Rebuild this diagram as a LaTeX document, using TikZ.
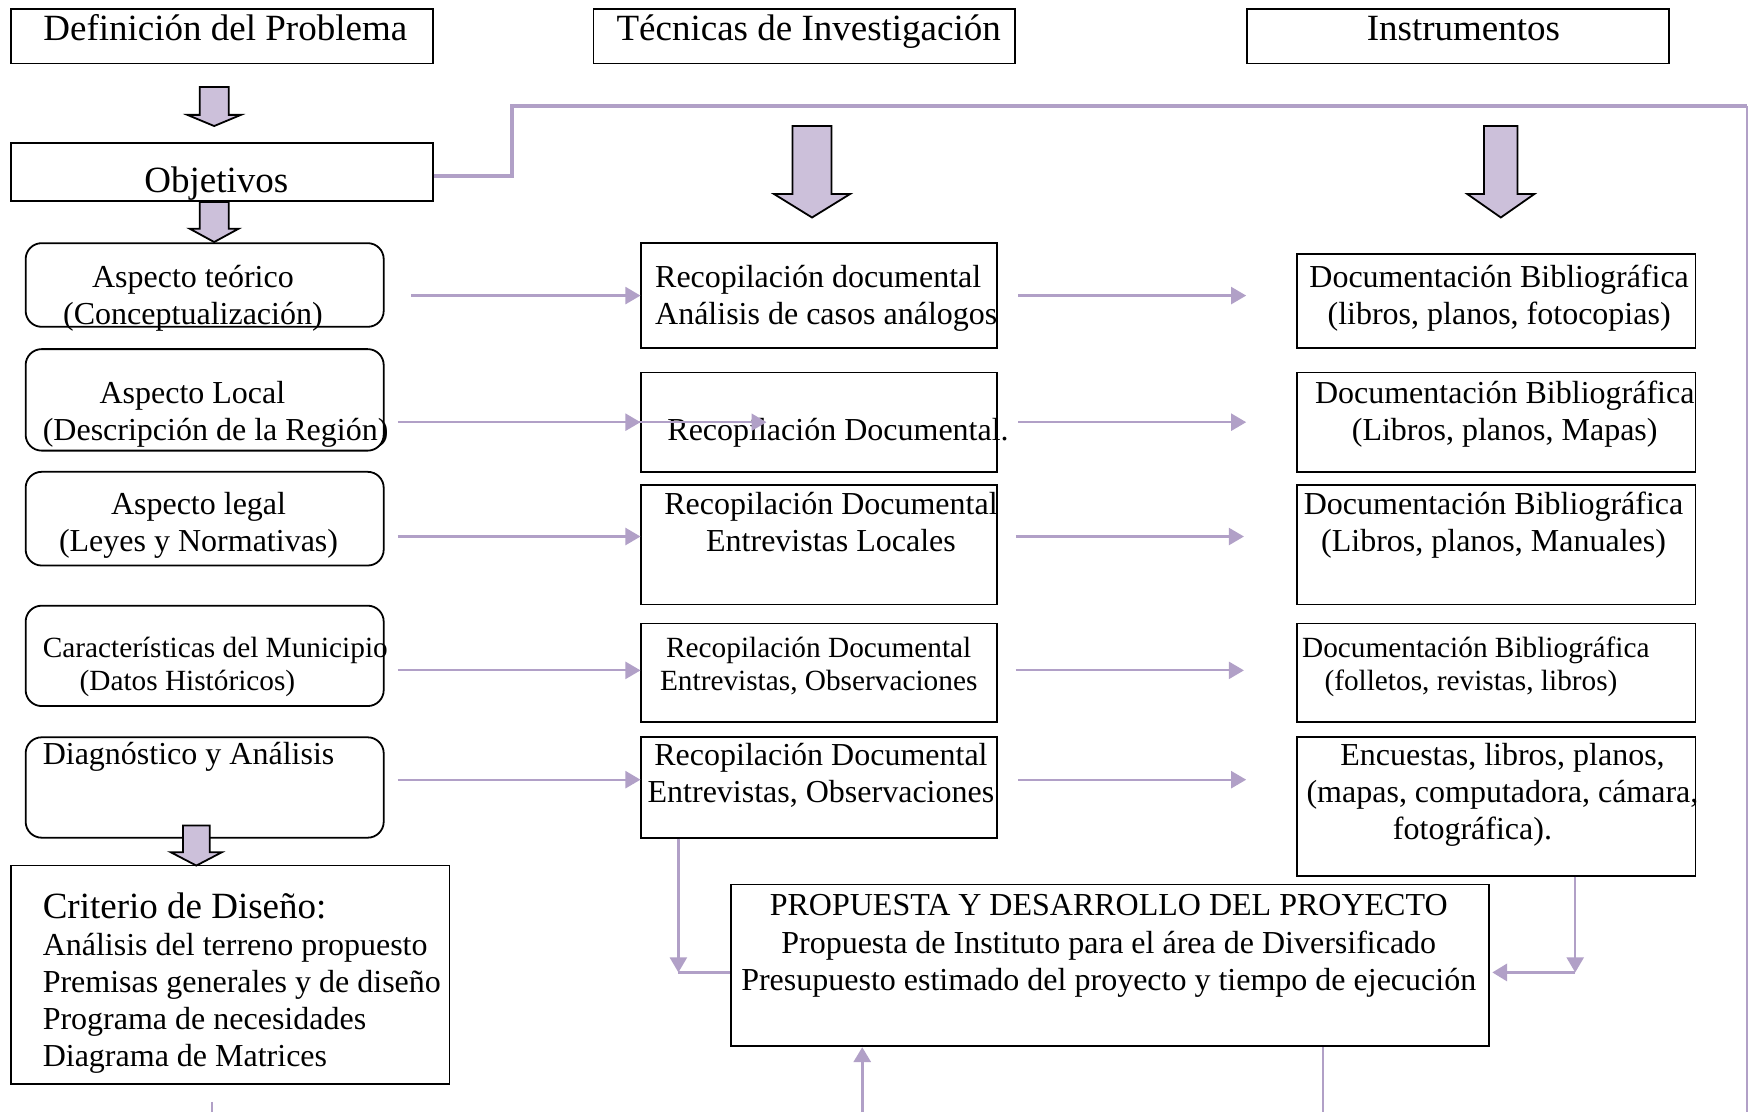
\documentclass[tikz,border=0pt]{standalone}
\usepackage{fontspec}
\setmainfont{Liberation Serif}
\usetikzlibrary{arrows.meta,calc,fit}
\definecolor{lpurple}{RGB}{177,160,199}
\definecolor{lfill}{RGB}{204,192,218}
\newcommand\fnorm{\fontsize{16}{18.5}\selectfont}
\newcommand\fprop{\fontsize{16}{18.8}\selectfont}
\newcommand\fbig{\fontsize{18.5}{21}\selectfont}
\newcommand\fsmall{\fontsize{14.65}{16.7}\selectfont}
\newcommand\blkarrow[6]{\draw[blk] (#1-#5,#2) -- (#1+#5,#2) -- (#1+#5,#3) -- (#1+#6,#3) -- (#1,#4) -- (#1-#6,#3) -- (#1-#5,#3) -- cycle;}
\tikzset{
  box/.style={draw=black, line width=0.9pt, inner sep=0pt},
  rbox/.style={box, rounded corners=8pt},
  conn/.style={draw=lpurple, line width=1.1pt, -{Triangle[length=7.5pt,width=8.5pt]}},
  plain/.style={draw=lpurple, line width=1.1pt},
  thickc/.style={draw=lpurple, line width=1.8pt},
  blk/.style={draw=black, line width=0.9pt, fill=lfill},
  hd/.style={inner sep=0pt, font=\fbig, anchor=base},
  tn/.style={inner sep=0pt, font=\fnorm, align=center, anchor=north},
  ts/.style={inner sep=0pt, font=\fsmall, align=center, anchor=north}
}
\begin{document}
\begin{tikzpicture}[x=0.5577pt, y=-0.5577pt]
\path[use as bounding box, fill=white] (0,0) rectangle (1568,997);

% boxes
\node[box, fit={(10,8)(388,57)}] (def) {};
\node[box, fit={(532,8)(910,57)}] (tec) {};
\node[box, fit={(1118,8)(1496,57)}] (ins) {};
\node[box, fit={(10,128)(388,180)}] (obj) {};
\node[rbox, fit={(23,218)(344,293)}] (a1) {};
\node[box, fit={(575,218)(894,312)}] (r1) {};
\node[box, fit={(1163,228)(1520,312)}] (d1) {};
\node[rbox, fit={(23,313)(344,404)}] (a2) {};
\node[box, fit={(575,334)(894,423)}] (r2) {};
\node[box, fit={(1163,334)(1520,423)}] (d2) {};
\node[rbox, fit={(23,423)(344,507)}] (a3) {};
\node[box, fit={(575,435)(894,542)}] (r3) {};
\node[box, fit={(1163,435)(1520,542)}] (d3) {};
\node[rbox, fit={(23,543)(344,633)}] (a4) {};
\node[box, fit={(575,559)(894,647)}] (r4) {};
\node[box, fit={(1163,559)(1520,647)}] (d4) {};
\node[rbox, fit={(23,661)(344,751)}] (a5) {};
\node[box, fit={(575,661)(894,751)}] (r5) {};
\node[box, fit={(1163,661)(1520,785)}] (d5) {};
\node[box, fit={(10,776)(403,972)}] (crit) {};
\node[box, fit={(655,793)(1335,938)}] (prop) {};

% texts
\node[hd] (tdef) at (202,36) {Definición del Problema};
\node[hd] (ttec) at (725,36) {Técnicas de Investigación};
\node[hd] (tins) at (1312,36) {Instrumentos};
\node[hd] (tobj) at (194,173) {Objetivos};

\node[tn] (ta1) at (173,234) {\strut Aspecto teórico\\(Conceptualización)};
\node[tn, anchor=north west, align=left] (tr1) at (587,234) {\strut Recopilación documental\\Análisis de casos análogos};
\node[tn] (td1) at (1344,234) {\strut Documentación Bibliográfica\\(libros, planos, fotocopias)};

\node[tn, anchor=north west, align=left] (ta2) at (38,338) {\hspace*{28.4pt}\strut Aspecto Local\\(Descripción de la Región)};
\node[tn, anchor=north west] (tr2) at (598,371) {\strut Recopilación Documental.};
\node[tn] (td2) at (1349,338) {\strut Documentación Bibliográfica\\(Libros, planos, Mapas)};

\node[tn] (ta3) at (178,438) {\strut Aspecto legal\\(Leyes y Normativas)};
\node[tn] (tr3) at (745,438) {\strut Recopilación Documental\\Entrevistas Locales};
\node[tn] (td3) at (1339,438) {\strut Documentación Bibliográfica\\(Libros, planos, Manuales)};

\node[ts, anchor=north west, align=left] (ta4) at (38,568) {\strut Características del Municipio\\\hspace*{18.4pt}(Datos Históricos)};
\node[ts] (tr4) at (734,568) {\strut Recopilación Documental\\Entrevistas, Observaciones};
\node[ts, anchor=north west, align=left] (td4) at (1167,568) {\strut Documentación Bibliográfica\\\hspace*{11.2pt}(folletos, revistas, libros)};

\node[tn, anchor=north west] (ta5) at (38,662) {\strut Diagnóstico y Análisis};
\node[tn] (tr5) at (736,663) {\strut Recopilación Documental\\Entrevistas, Observaciones};
\node[tn] (td5) at (1347,663) {\strut Encuestas, libros, planos,\\(mapas, computadora, cámara,\\fotográfica).\hspace*{30pt}};

\node[hd, anchor=base west] (tcrit) at (38,823) {Criterio de Diseño:};
\node[tn, anchor=north west, align=left] (tcl) at (38,833) {\strut Análisis del terreno propuesto\\Premisas generales y de diseño\\Programa de necesidades\\Diagrama de Matrices};

\node[tn, font=\fprop] (tprop) at (994,797) {\strut PROPUESTA Y DESARROLLO DEL PROYECTO\\Propuesta de Instituto para el área de Diversificado\\Presupuesto estimado del proyecto y tiempo de ejecución};

% block arrows
\blkarrow{192}{78}{103}{113}{13}{24}
\blkarrow{192}{181}{205}{217}{13}{22}
\blkarrow{176}{740}{764}{776}{12}{23}
\blkarrow{728}{113}{174}{195}{17.5}{34}
\blkarrow{1345.5}{113}{174}{195}{15}{30}

% row connectors
\draw[conn] ($(a1.east |- r1.west)+(24,0)$) -- (r1.west);
\draw[conn] ($(r1.east)+(18,0)$) -- ($(r1.east -| d1.west)+(-45,0)$);
\draw[conn] ($(a2.east |- r2.west)+(12,0)$) -- (r2.west);
\draw[conn] ($(a2.east |- r2.west)+(139,0)$) -- ($(r2.west)+(113,0)$);
\draw[conn] ($(r2.east)+(18,0)$) -- ($(d2.west)+(-45,0)$);
\draw[conn] ($(a3.east |- r3.west)+(12,-7.5)$) -- ($(r3.west)+(0,-7.5)$);
\draw[conn] ($(r3.east)+(16,-7.5)$) -- ($(d3.west)+(-47,-7.5)$);
\draw[conn] ($(a4.east |- r4.west)+(12,-2)$) -- ($(r4.west)+(0,-2)$);
\draw[conn] ($(r4.east)+(16,-2)$) -- ($(d4.west)+(-47,-2)$);
\draw[conn] ($(a5.east |- r5.west)+(12,-7)$) -- ($(r5.west)+(0,-7)$);
\draw[conn] ($(r5.east)+(18,-7)$) -- ($(r5.east -| d5.west)+(-45,-7)$);

% connectors to the proposal
\coordinate (lc) at ($(r5.south west)+(34,120)$);
\draw[conn] ($(r5.south west)+(34,0)$) -- (lc);
\draw[plain] (lc) -- (lc -| prop.west);
\coordinate (rc) at ($(d5.south west)+(250,86)$);
\draw[conn] ($(d5.south west)+(250,0)$) -- (rc);
\draw[conn, line width=1.8pt] (rc) -- ($(rc -| prop.east)+(2,0)$);

% bottom and frame connectors
\coordinate (bot1) at (190,997);
\draw[plain] ($(crit.south)+(-16.5,15)$) -- (bot1);
\coordinate (bot2) at (773,997);
\draw[conn, line width=1.6pt] (bot2) -- (bot2 |- prop.south);
\coordinate (bot3) at (1186,997);
\draw[plain] (bot3 |- prop.south) -- (bot3);
\coordinate (tr) at (1566,95);
\coordinate (br) at (1566,997);
\draw[thickc] ($(obj.east)+(0,4)$) -- ++(70,0) |- (tr);
\draw[plain] (tr) -- (br);
\end{tikzpicture}
\end{document}
